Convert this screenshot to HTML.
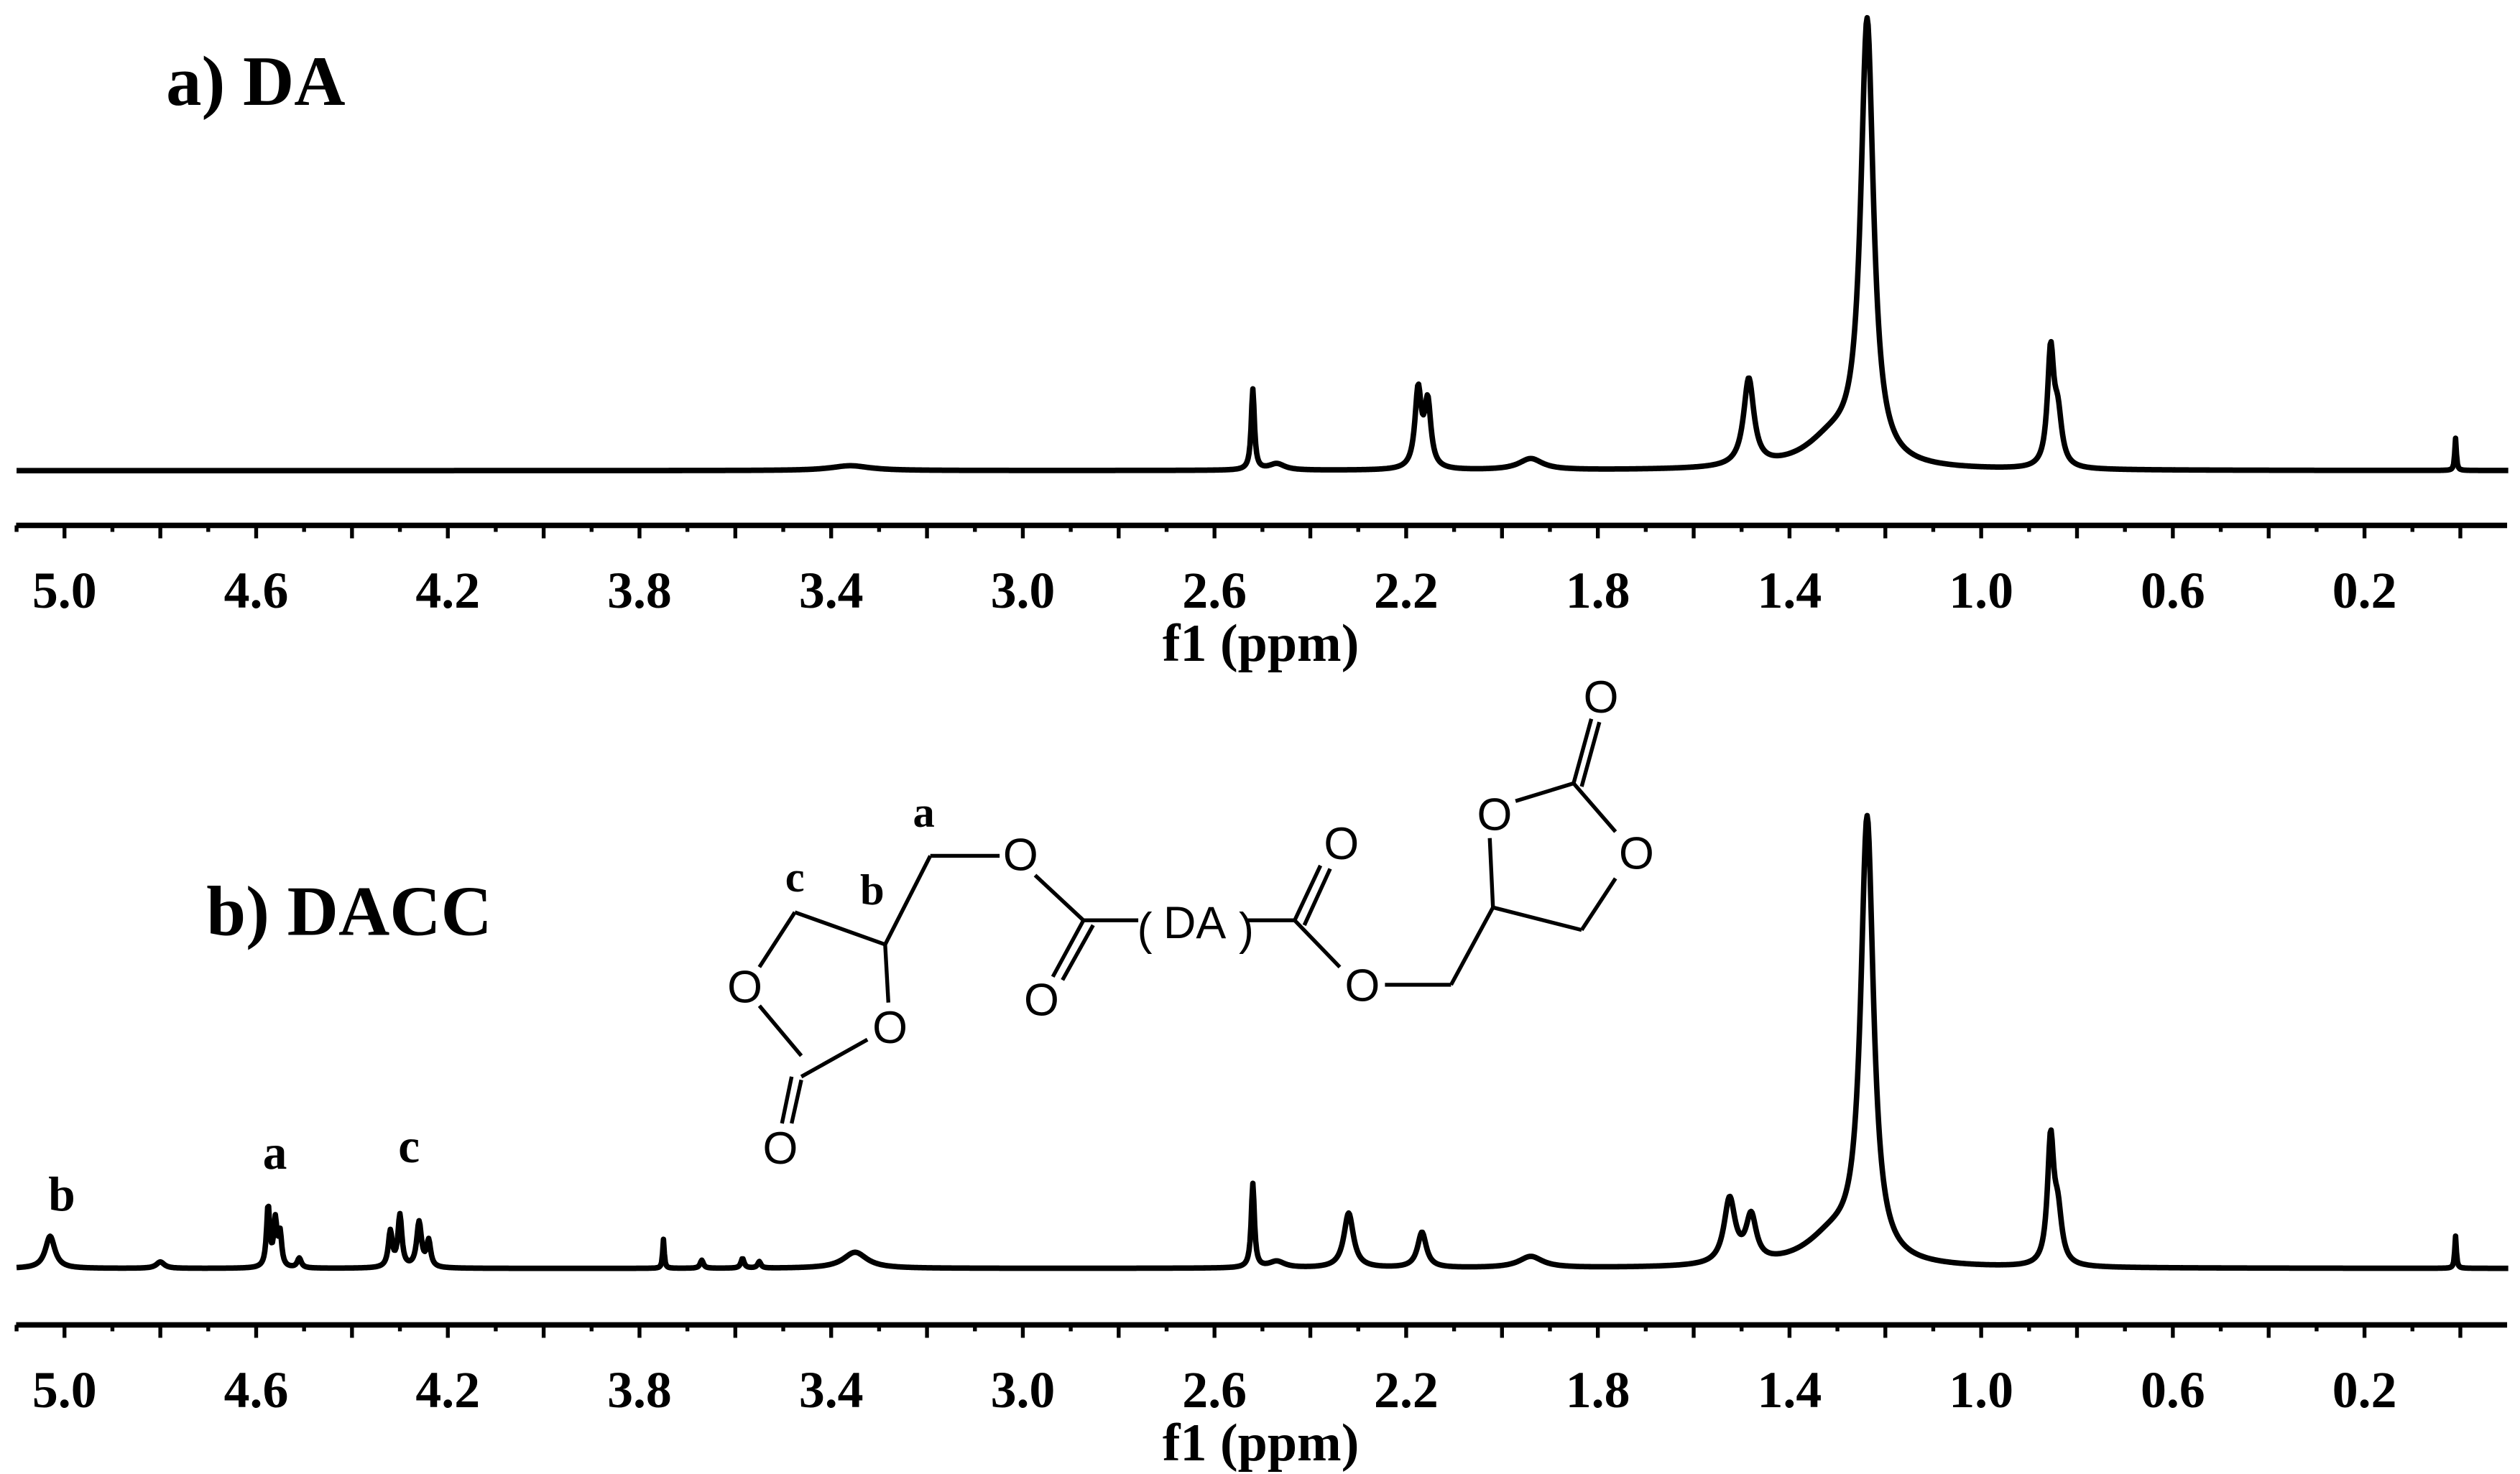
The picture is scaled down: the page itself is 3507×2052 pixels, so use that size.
<!DOCTYPE html>
<html><head><meta charset="utf-8"><style>
html,body{margin:0;padding:0;background:#fff;}
svg{display:block;}
.t{font-family:"Liberation Serif",serif;font-weight:bold;fill:#000;}
.o{font-family:"Liberation Sans",sans-serif;font-size:28px;fill:#000;}
</style></head><body>
<svg id="fig" width="3507" height="2052" viewBox="0 0 1563 914.5" preserveAspectRatio="none" xmlns="http://www.w3.org/2000/svg">
<text class="t" x="103" y="65" font-size="44">a) DA</text>
<text class="t" x="128" y="580" font-size="44">b) DACC</text>
<g id="axes"></g>
<path id="specA" fill="none" stroke="#000" stroke-width="3.4" stroke-linejoin="round"/>
<path id="specB" fill="none" stroke="#000" stroke-width="3.4" stroke-linejoin="round"/>
<text class="t" x="30" y="751" font-size="30">b</text>
<text class="t" x="163" y="725" font-size="30">a</text>
<text class="t" x="247" y="721" font-size="30">c</text>
<g stroke="#000" stroke-width="2.4" fill="none">
<line x1="493" y1="566" x2="549" y2="586"/>
<line x1="549" y1="586" x2="577" y2="531"/>
<line x1="577" y1="531" x2="620" y2="531"/>
<line x1="493" y1="566" x2="471" y2="600"/>
<line x1="471" y1="624" x2="497" y2="655"/>
<line x1="549" y1="586" x2="551" y2="622"/>
<line x1="538" y1="645" x2="497" y2="668"/>
<line x1="491" y1="668" x2="485" y2="697"/>
<line x1="497" y1="670" x2="491" y2="697"/>
<line x1="642" y1="543" x2="672" y2="571"/>
<line x1="672" y1="571" x2="653" y2="606"/>
<line x1="678" y1="574" x2="659" y2="608"/>
<line x1="672" y1="571" x2="706" y2="571"/>
<line x1="774" y1="571" x2="803" y2="571"/>
<line x1="803" y1="571" x2="819" y2="537"/>
<line x1="809" y1="574" x2="825" y2="539"/>
<line x1="803" y1="571" x2="831" y2="600"/>
<line x1="859" y1="611" x2="900" y2="611"/>
<line x1="900" y1="611" x2="926" y2="563"/>
<line x1="926" y1="563" x2="981" y2="577"/>
<line x1="981" y1="577" x2="1002" y2="545"/>
<line x1="926" y1="563" x2="924" y2="520"/>
<line x1="940" y1="497" x2="976" y2="486"/>
<line x1="976" y1="486" x2="1002" y2="516"/>
<line x1="976" y1="486" x2="987" y2="446"/>
<line x1="981" y1="488" x2="992" y2="448"/>
</g>
<g>
<text class="o" x="462" y="622" text-anchor="middle">O</text>
<text class="o" x="552" y="647" text-anchor="middle">O</text>
<text class="o" x="484" y="722" text-anchor="middle">O</text>
<text class="o" x="633" y="540" text-anchor="middle">O</text>
<text class="o" x="646" y="630" text-anchor="middle">O</text>
<text class="o" x="832" y="533" text-anchor="middle">O</text>
<text class="o" x="845" y="621" text-anchor="middle">O</text>
<text class="o" x="927" y="515" text-anchor="middle">O</text>
<text class="o" x="1015" y="539" text-anchor="middle">O</text>
<text class="o" x="993" y="442" text-anchor="middle">O</text>
<text class="o" x="741" y="582" text-anchor="middle" font-size="29">DA</text>
<text class="o" x="710" y="586" text-anchor="middle" font-size="36">(</text>
<text class="o" x="773" y="586" text-anchor="middle" font-size="36">)</text>
<text class="t" x="573" y="513" font-size="27" text-anchor="middle">a</text>
<text class="t" x="493" y="553" font-size="27" text-anchor="middle">c</text>
<text class="t" x="541" y="561" font-size="27" text-anchor="middle">b</text>
</g>
</svg>
<script>
// tick labels
const tickLabels = ["5.0","4.6","4.2","3.8","3.4","3.0","2.6","2.2","1.8","1.4","1.0","0.6","0.2"];
// DA spectrum peaks: position (ppm), height (px), half-width (ppm)
const daPos    = [3.36, 2.52, 2.47, 2.175, 2.155, 1.94, 1.485, 1.31, 1.238, 0.855, 0.84, 0.01];
const daHeight = [3,    50,   4,    48,    40,    7,    54,    18,   272,   70,    30,   20];
const daWidth  = [0.05, 0.004,0.02, 0.008, 0.008, 0.03, 0.013, 0.07, 0.016, 0.008, 0.01, 0.002];
// DACC spectrum peaks
const dcPos    = [5.03, 4.80, 4.575,4.56, 4.55, 4.51, 4.32, 4.30, 4.26, 4.24, 3.75, 3.67, 3.585,3.55, 3.35, 2.52, 2.47, 2.32, 2.167,1.94, 1.525,1.48, 1.31, 1.238, 0.855,0.84, 0.01];
const dcHeight = [20,   4,    38,   28,   20,   6,    22,   32,   28,   16,   18,   5,    6,    4,    10,   52,   4,    34,   22,   7,    40,   28,   18,   272,   76,   30,   20];
const dcWidth  = [0.012,0.01, 0.004,0.004,0.004,0.005,0.005,0.005,0.006,0.005,0.002,0.004,0.004,0.004,0.03, 0.004,0.02, 0.012,0.011,0.03, 0.014,0.013,0.07, 0.016, 0.008,0.01, 0.002];

const NS='http://www.w3.org/2000/svg';
function xOf(ppm){return 40+(5-ppm)*297.2;}
function spectrum(pos,h,w,base){
  let d='';
  for(let i=0;i<=2600;i++){
    const p=5.1-i*0.002;
    let y=0;
    for(let k=0;k<pos.length;k++){const dx=p-pos[k];y+=h[k]*w[k]*w[k]/(dx*dx+w[k]*w[k]);}
    d+=(i?'L':'M')+xOf(p).toFixed(2)+' '+(base-y).toFixed(2);
  }
  return d;
}
document.getElementById('specA').setAttribute('d',spectrum(daPos,daHeight,daWidth,292));
document.getElementById('specB').setAttribute('d',spectrum(dcPos,dcHeight,dcWidth,787));

const axes=document.getElementById('axes');
function mk(tag,attrs){const e=document.createElementNS(NS,tag);for(const k in attrs)e.setAttribute(k,attrs[k]);axes.appendChild(e);return e;}
[[326,'a'],[822,'b']].forEach(([ay,pn])=>{
  const ln=mk('line',{x1:10,x2:1555,y1:ay,y2:ay,stroke:'#000','stroke-width':3.4});
  
  
  for(let i=0;i<=51;i++){
    const ppm=5.1-i*0.1;
    const major=Math.round(ppm*10)%2===0;
    const t=mk('line',{x1:xOf(ppm),x2:xOf(ppm),y1:ay,y2:ay+(major?8:4),stroke:'#000','stroke-width':2.4});
    
    
  }
  tickLabels.forEach(s=>{
    const tx=mk('text',{x:xOf(parseFloat(s)),y:ay+51,'text-anchor':'middle','font-size':32,class:'t'});
    tx.textContent=s;
    
    
  });
  const tl=mk('text',{x:782,y:ay+84,'text-anchor':'middle','font-size':33,class:'t'});
  tl.textContent='f1 (ppm)';
  
  
});
</script>
</body></html>
